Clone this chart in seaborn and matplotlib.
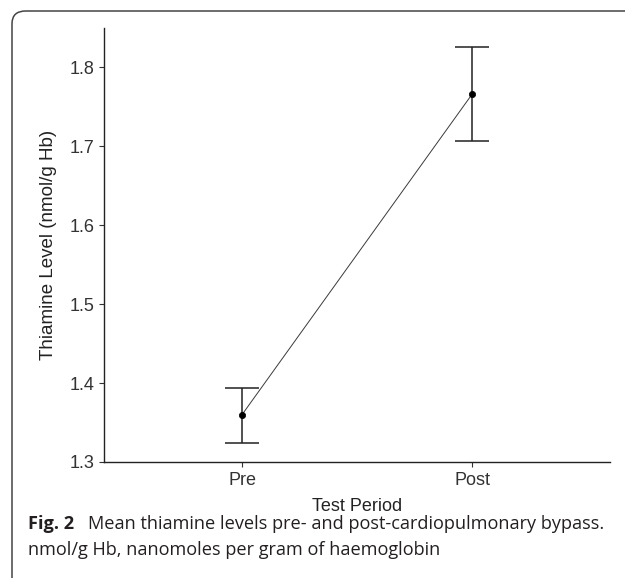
import numpy as np
import pandas as pd
import matplotlib
matplotlib.use("Agg")
import matplotlib.pyplot as plt
import seaborn as sns
from matplotlib.patches import FancyBboxPatch

periods = ["Pre", "Post"]
mean_level = [1.360, 1.766]
lower_ci = [1.324, 1.706]
upper_ci = [1.394, 1.825]
y_ticks = [1.3, 1.4, 1.5, 1.6, 1.7, 1.8]

df = pd.DataFrame({"period": periods, "level": mean_level})

sns.set_style("ticks")
plt.rcParams["font.family"] = ["Liberation Sans", "DejaVu Sans"]

fig = plt.figure(figsize=(6.25, 5.78), dpi=100)
ax = fig.add_axes([0.1664, 0.2007, 0.81, 0.7513])

sns.pointplot(data=df, x="period", y="level", order=periods, errorbar=None,
              color="#3a3a3a", markers="o", markersize=4.5, linewidth=0.7, ax=ax)
for ln in ax.lines:
    ln.set_markerfacecolor("black")
    ln.set_markeredgecolor("black")
    ln.set_zorder(5)

xpos = np.arange(len(periods))
yerr = [np.array(mean_level) - np.array(lower_ci), np.array(upper_ci) - np.array(mean_level)]
ax.errorbar(xpos, mean_level, yerr=yerr, fmt="none", ecolor="#222222",
            elinewidth=1.1, capsize=12.2, capthick=1.1, zorder=1)

ax.set_xlim(-0.6, 1.6)
ax.set_ylim(1.3, 1.85)
ax.set_yticks(y_ticks)
ax.set_yticklabels([f"{t:.1f}" for t in y_ticks])
ax.tick_params(axis="both", labelsize=13, colors="#333333", length=3.5, width=0.8,
               labelcolor="#333333")
ax.tick_params(axis="x", pad=4)
ax.set_xlabel("Test Period", fontsize=13, color="#222222", labelpad=6)
ax.set_ylabel("Thiamine Level (nmol/g Hb)", fontsize=13.5, color="#222222", labelpad=9)
for s in ["top", "right"]:
    ax.spines[s].set_visible(False)
for s in ["left", "bottom"]:
    ax.spines[s].set_linewidth(1.0)
    ax.spines[s].set_color("#222222")

# rounded frame round the figure panel
frame = FancyBboxPatch((12 / 625, -0.1), 1.2, (1 - 11 / 578) + 0.1,
                       boxstyle="round,pad=0,rounding_size=0.022",
                       transform=fig.transFigure, fill=False,
                       edgecolor="#444444", linewidth=1.1, clip_on=False)
fig.patches.append(frame)

cap_font = ["Open Sans", "DejaVu Sans"]
fig.text(28 / 625, 1 - 524 / 578, "Fig. 2", fontsize=13.1, fontweight="bold",
         family=cap_font, va="center", ha="left", color="#231f20")
fig.text(88 / 625, 1 - 524 / 578, "Mean thiamine levels pre- and post-cardiopulmonary bypass.",
         fontsize=13.1, family=cap_font, va="center", ha="left", color="#231f20")
fig.text(28 / 625, 1 - 550 / 578, "nmol/g Hb, nanomoles per gram of haemoglobin",
         fontsize=13.1, family=cap_font, va="center", ha="left", color="#231f20")

fig.savefig("out.png", dpi=100)
